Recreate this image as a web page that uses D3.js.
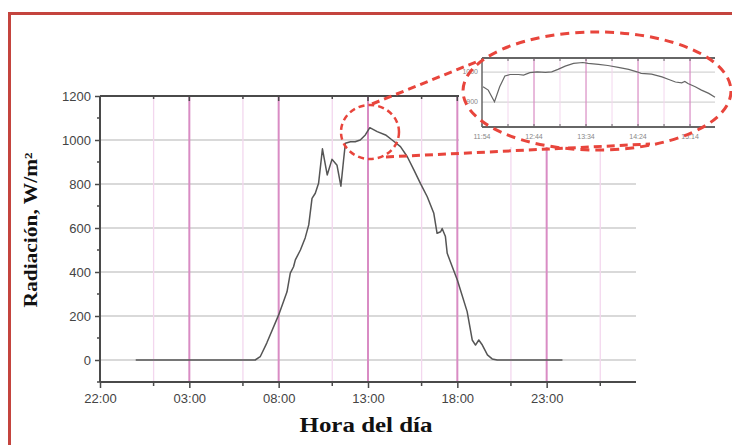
<!DOCTYPE html>
<html>
<head>
<meta charset="utf-8">
<script src="https://cdn.jsdelivr.net/npm/d3@7"></script>
<style>
  body { margin: 0; background: #fff; }
  svg { display: block; }
</style>
</head>
<body>
<svg id="chart" width="732" height="445"></svg>
<script>
// main series: clock time on the measurement day, radiation W/m2
var radTimes = ["00:00","06:41","06:58","07:20","08:00","08:16","08:28","08:39","08:50","08:56",
                "09:13","09:29","09:41","09:52","10:03","10:14","10:27","10:43","10:59","11:16",
                "11:29","11:38","11:44","12:01","12:17","12:34","12:51","13:06","13:31","13:59",
                "14:21","14:49","15:12","15:34","15:56","16:19","16:41","16:52","17:04","17:09",
                "17:20","17:26","17:43","18:00","18:33","18:50","19:01","19:12","19:24","19:41",
                "19:57","20:14","23:53"];
var radValues = [0,0,15,77,205,265,310,395,424,455,
                 500,555,614,735,758,803,960,841,912,885,
                 790,909,985,992,992,1000,1023,1056,1038,1023,
                 1000,970,924,864,803,742,667,576,583,598,
                 561,485,424,364,220,91,68,91,68,23,
                 5,0,0];

// x axis runs from 22:00 the evening before to 04:00 the day after
var xStart = "22:00", xEnd = "04:00";
var xTickLabels = ["22:00","03:00","08:00","13:00","18:00","23:00"];
var xMinorLabels = ["01:00","06:00","11:00","16:00","21:00","02:00"];
var yTicks = [0,200,400,600,800,1000,1200];
var yMinor = [100,300,500,700,900,1100,-100];

// inset (zoom of the noon peak)
var insetTimes = ["11:55","12:00","12:06","12:11","12:16","12:21","12:29","12:34","12:40","12:47",
                  "12:55","13:01","13:07","13:14","13:22","13:31","13:36","13:46","13:55","14:05",
                  "14:15","14:23","14:27","14:37","14:47","14:53","15:00","15:06","15:09","15:12",
                  "15:19","15:25","15:32","15:38"];
var insetValues = [951,940,901,951,987,992,992,990,998,1001,
                   999,1001,1009,1020,1029,1032,1029,1026,1022,1016,
                   1009,1001,996,993,984,976,967,964,969,962,
                   951,940,929,916];
var insetTickLabels = ["11:54","12:44","13:34","14:24","15:14"];
var insetMinorLabels = ["12:19","13:09","13:59","14:49"];
var insetYTicks = [900,1000];

var parseHM = d3.timeParse("%Y-%m-%d %H:%M");
function at(day, hm) { return parseHM("2000-01-0" + day + " " + hm); }
// times in a list roll over to the next day when the clock goes back
function seq(list, day) {
  var out = [], prev = -1;
  list.forEach(function(t) {
    var h = +t.slice(0, 2) * 60 + +t.slice(3);
    if (h < prev) day++;
    prev = h;
    out.push(at(day, t));
  });
  return out;
}

var svg = d3.select("#chart");
var sans = "'Liberation Sans', Arial, sans-serif";
var serif = "'Liberation Serif', 'Times New Roman', serif";
var pinkMajor = "#d98cc4", pinkMinor = "#f3d7ee", gridCol = "#cdcdcd", axisCol = "#4a4a4a";

var x = d3.scaleTime().domain([at(1, xStart), at(3, xEnd)]).range([100, 636]);
var y = d3.scaleLinear().domain([-100, 1200]).range([382, 96]);

var majors = seq(xTickLabels, 1);
var minors = seq(xMinorLabels, 2);

// horizontal grid
svg.append("g").selectAll("line").data(yTicks.filter(function(d){ return d < 1200; }))
  .enter().append("line")
  .attr("x1", 100).attr("x2", 636)
  .attr("y1", function(d){ return y(d); }).attr("y2", function(d){ return y(d); })
  .attr("stroke", gridCol).attr("stroke-width", 1.6);

// vertical grid
svg.append("g").selectAll("line").data(minors).enter().append("line")
  .attr("x1", function(d){ return x(d); }).attr("x2", function(d){ return x(d); })
  .attr("y1", 96).attr("y2", 382)
  .attr("stroke", pinkMinor).attr("stroke-width", 1.3);
svg.append("g").selectAll("line").data(majors.slice(1)).enter().append("line")
  .attr("x1", function(d){ return x(d); }).attr("x2", function(d){ return x(d); })
  .attr("y1", 96).attr("y2", 382)
  .attr("stroke", pinkMajor).attr("stroke-width", 2);

// data line
var radDates = seq(radTimes, 2);
var line = d3.line().x(function(d){ return x(d[0]); }).y(function(d){ return y(d[1]); });
svg.append("path")
  .datum(d3.zip(radDates, radValues))
  .attr("d", line)
  .attr("fill", "none").attr("stroke", "#555").attr("stroke-width", 1.5)
  .attr("stroke-linejoin", "round");

// axes
var yAxis = d3.axisLeft(y).tickValues(yTicks).tickFormat(d3.format("d")).tickSize(5).tickPadding(4);
var gy = svg.append("g").attr("transform", "translate(100,0)").call(yAxis);
gy.append("g").selectAll("line").data(yMinor).enter().append("line")
  .attr("x1", -3).attr("x2", 0)
  .attr("y1", function(d){ return y(d); }).attr("y2", function(d){ return y(d); })
  .attr("stroke", axisCol).attr("stroke-width", 1.5);

var xAxis = d3.axisBottom(x).tickValues(majors).tickFormat(d3.timeFormat("%H:%M"))
  .tickSize(6).tickPadding(6);
var gx = svg.append("g").attr("transform", "translate(0,382)").call(xAxis);
gx.append("g").selectAll("line").data(minors).enter().append("line")
  .attr("x1", function(d){ return x(d); }).attr("x2", function(d){ return x(d); })
  .attr("y1", 0).attr("y2", 4)
  .attr("stroke", axisCol).attr("stroke-width", 1.5);

// top axis with inward ticks
var gt = svg.append("g");
gt.append("line").attr("x1", 100).attr("x2", 636).attr("y1", 96).attr("y2", 96)
  .attr("stroke", axisCol).attr("stroke-width", 2);
gt.selectAll("line.t").data(majors.concat(minors)).enter().append("line").attr("class", "t")
  .attr("x1", function(d){ return x(d); }).attr("x2", function(d){ return x(d); })
  .attr("y1", 96).attr("y2", function(d, i){ return i < majors.length ? 101 : 99; })
  .attr("stroke", axisCol).attr("stroke-width", 1.5);

[gx, gy].forEach(function(g) {
  g.select(".domain").attr("stroke", axisCol).attr("stroke-width", 2);
  g.selectAll(".tick line").attr("stroke", axisCol).attr("stroke-width", 1.5);
  g.selectAll(".tick text").attr("fill", "#444").attr("font-family", sans).attr("font-size", 13);
});
gx.select(".domain").attr("d", "M100,0H636");
gy.select(".domain").attr("d", "M0,382V96");

// axis titles
svg.append("text").text("Hora del día")
  .attr("x", 366).attr("y", 432).attr("text-anchor", "middle")
  .attr("font-family", serif).attr("font-weight", "bold").attr("font-size", 20)
  .attr("textLength", 133).attr("lengthAdjust", "spacingAndGlyphs").attr("fill", "#111");
svg.append("text").text("Radiación, W/m²")
  .attr("transform", "translate(37,230) rotate(-90)").attr("text-anchor", "middle")
  .attr("font-family", serif).attr("font-weight", "bold").attr("font-size", 18)
  .attr("textLength", 155).attr("lengthAdjust", "spacingAndGlyphs").attr("fill", "#111");

// ---- inset ----
svg.append("rect").attr("x", 459).attr("y", 30).attr("width", 273).attr("height", 117).attr("fill", "#fff");

var ix = d3.scaleTime().domain([at(2, "11:54"), at(2, "15:38")]).range([482, 715]);
var iy = d3.scaleLinear().domain([817, 1047]).range([127, 58]);
var iMaj = seq(insetTickLabels, 2), iMin = seq(insetMinorLabels, 2);
var ins = svg.append("g");

ins.selectAll("line.g").data(insetYTicks).enter().append("line").attr("class", "g")
  .attr("x1", 482).attr("x2", 715)
  .attr("y1", function(d){ return iy(d); }).attr("y2", function(d){ return iy(d); })
  .attr("stroke", "#d4d4d4").attr("stroke-width", 1.2);
ins.selectAll("line.m").data(iMin).enter().append("line").attr("class", "m")
  .attr("x1", function(d){ return ix(d); }).attr("x2", function(d){ return ix(d); })
  .attr("y1", 58).attr("y2", 127).attr("stroke", pinkMinor).attr("stroke-width", 1);
ins.selectAll("line.M").data(iMaj.slice(1)).enter().append("line").attr("class", "M")
  .attr("x1", function(d){ return ix(d); }).attr("x2", function(d){ return ix(d); })
  .attr("y1", 58).attr("y2", 127).attr("stroke", pinkMajor).attr("stroke-width", 1.2);

var iline = d3.line().x(function(d){ return ix(d[0]); }).y(function(d){ return iy(d[1]); });
ins.append("path").datum(d3.zip(seq(insetTimes, 2), insetValues))
  .attr("d", iline).attr("fill", "none").attr("stroke", "#666").attr("stroke-width", 1.2);

[58, 127].forEach(function(yy, k) {
  ins.append("line").attr("x1", 482).attr("x2", 715).attr("y1", yy).attr("y2", yy)
    .attr("stroke", "#666").attr("stroke-width", 2);
  ins.selectAll("line.tk" + k).data(iMaj.concat(iMin)).enter().append("line")
    .attr("x1", function(d){ return ix(d); }).attr("x2", function(d){ return ix(d); })
    .attr("y1", yy).attr("y2", k === 0 ? yy + 3 : yy - 3)
    .attr("stroke", "#666").attr("stroke-width", 1);
});
ins.append("line").attr("x1", 482).attr("x2", 482).attr("y1", 58).attr("y2", 127)
  .attr("stroke", "#666").attr("stroke-width", 1.5);
ins.selectAll("text.x").data(iMaj).enter().append("text").attr("class", "x")
  .attr("x", function(d){ return ix(d); }).attr("y", 139).attr("text-anchor", "middle")
  .attr("font-family", sans).attr("font-size", 7).attr("fill", "#888")
  .text(d3.timeFormat("%H:%M"));
ins.selectAll("text.y").data(insetYTicks).enter().append("text").attr("class", "y")
  .attr("x", 478).attr("y", function(d){ return iy(d) + 2; }).attr("text-anchor", "end")
  .attr("font-family", sans).attr("font-size", 7).attr("fill", "#888")
  .text(function(d){ return d; });

// red dashed callouts
var red = "#e8453c";
svg.append("ellipse").attr("cx", 370).attr("cy", 132).attr("rx", 29).attr("ry", 27)
  .attr("fill", "none").attr("stroke", red).attr("stroke-width", 2.5).attr("stroke-dasharray", "6,4");
svg.append("line").attr("x1", 372).attr("y1", 104).attr("x2", 476).attr("y2", 62)
  .attr("stroke", red).attr("stroke-width", 3).attr("stroke-dasharray", "8,5");
svg.append("line").attr("x1", 386).attr("y1", 157).attr("x2", 650).attr("y2", 144)
  .attr("stroke", red).attr("stroke-width", 3).attr("stroke-dasharray", "8,5");
svg.append("ellipse").attr("cx", 597).attr("cy", 91).attr("rx", 134).attr("ry", 59)
  .attr("fill", "none").attr("stroke", red).attr("stroke-width", 3).attr("stroke-dasharray", "9,6");

// frame
svg.append("path").attr("d", "M9.5,445V13.5H732")
  .attr("fill", "none").attr("stroke", "#c4443e").attr("stroke-width", 3);
</script>
</body>
</html>
